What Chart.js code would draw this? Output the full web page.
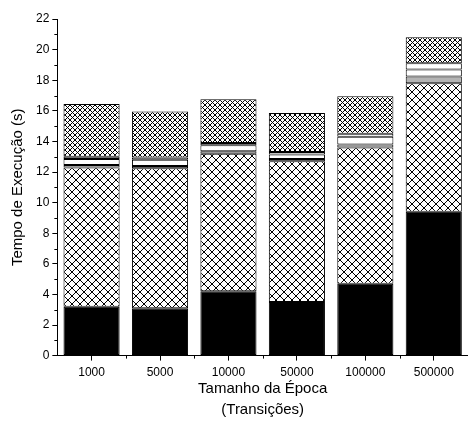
<!DOCTYPE html>
<html>
<head>
<meta charset="utf-8">
<script src="https://cdn.jsdelivr.net/npm/chart.js@4/dist/chart.umd.min.js"></script>
<style>
  html, body { margin: 0; padding: 0; background: #fff; }
  #wrap { width: 468px; height: 422px; }
</style>
</head>
<body>
<div id="wrap"><canvas id="c" width="468" height="422"></canvas></div>
<script>
const categories = ["1000", "5000", "10000", "50000", "100000", "500000"];
const solidPart   = [3.2, 3.1, 4.2, 3.5, 4.7, 9.4];
const sparseHatch = [9.1, 9.15, 9.0, 9.2, 8.9, 8.4];
const grayBand    = [0.15, 0.15, 0.15, 0.15, 0.2, 0.45];
const whiteBand   = [0.4, 0.4, 0.4, 0.3, 0.5, 0.45];
const thinBand    = [0.15, 0.15, 0.15, 0.15, 0.2, 0.4];
const denseHatch  = [3.45, 3.0, 2.85, 2.55, 2.45, 1.7];
const yTicks = [0, 2, 4, 6, 8, 10, 12, 14, 16, 18, 20, 22];

function hatch(period, lw) {
  const c = document.createElement('canvas');
  c.width = period; c.height = period;
  const g = c.getContext('2d');
  g.fillStyle = '#fff';
  g.fillRect(0, 0, period, period);
  g.strokeStyle = '#000';
  g.lineWidth = lw;
  g.beginPath();
  for (let k = -1; k <= 1; k++) {
    g.moveTo(k * period - 1, -1); g.lineTo(k * period + period + 1, period + 1);
    g.moveTo(k * period + period + 1, -1); g.lineTo(k * period - 1, period + 1);
  }
  g.stroke();
  return g.createPattern(c, 'repeat');
}
const ctx = document.getElementById('c').getContext('2d');
const sparse = hatch(8, 1);
const dense = hatch(5, 1);

const FONT = "'Liberation Sans', Arial, sans-serif";

const minorTicks = {
  id: 'minorTicks',
  afterDraw(chart) {
    const g = chart.ctx;
    const y = chart.scales.y, x = chart.scales.x;
    g.save();
    g.strokeStyle = '#000';
    g.lineWidth = 1;
    g.beginPath();
    for (let v = 1; v < 22; v += 2) {
      const py = Math.round(y.getPixelForValue(v)) + 0.5;
      g.moveTo(y.right - 3, py); g.lineTo(y.right, py);
    }
    const half = (x.getPixelForValue(1) - x.getPixelForValue(0)) / 2;
    for (let i = 0; i < categories.length; i++) {
      const px = Math.round(x.getPixelForValue(i) + half) + 0.5;
      g.moveTo(px, x.top); g.lineTo(px, x.top + 3);
    }
    g.stroke();
    g.restore();
  }
};

function ds(data, bg) {
  return { data, backgroundColor: bg, borderColor: '#000', borderWidth: 1,
           borderSkipped: false, barPercentage: 0.82, categoryPercentage: 1 };
}

new Chart(ctx, {
  type: 'bar',
  data: {
    labels: categories,
    datasets: [
      ds(solidPart, '#000'),
      ds(sparseHatch, sparse),
      ds(grayBand, '#b4b4b4'),
      ds(whiteBand, '#fff'),
      ds(thinBand, '#fff'),
      ds(denseHatch, dense)
    ]
  },
  options: {
    responsive: false,
    animation: false,
    devicePixelRatio: 1,
    layout: { padding: { top: 19, right: 0, left: 5, bottom: 2 } },
    plugins: { legend: { display: false }, tooltip: { enabled: false } },
    scales: {
      x: {
        stacked: true,
        grid: { display: true, drawOnChartArea: false, offset: false, tickLength: 5, color: '#000' },
        border: { color: '#000', width: 1 },
        ticks: { color: '#000', font: { family: FONT, size: 12 }, padding: 5, maxRotation: 0 },
        title: { display: true, text: ['Tamanho da Época', '(Transições)'], color: '#000',
                 font: { family: FONT, size: 15, lineHeight: 1.4 }, padding: { top: -7, bottom: 0 } }
      },
      y: {
        stacked: true,
        min: 0, max: 22,
        afterBuildTicks(scale) { scale.ticks = yTicks.map(v => ({ value: v })); },
        grid: { display: true, drawOnChartArea: false, tickLength: 5, color: '#000' },
        border: { color: '#000', width: 1 },
        ticks: { color: '#000', font: { family: FONT, size: 12 }, padding: 3 },
        title: { display: true, text: 'Tempo de Execução (s)', color: '#000',
                 font: { family: FONT, size: 15 }, padding: { bottom: 6 } }
      }
    }
  },
  plugins: [minorTicks]
});
</script>
</body>
</html>
